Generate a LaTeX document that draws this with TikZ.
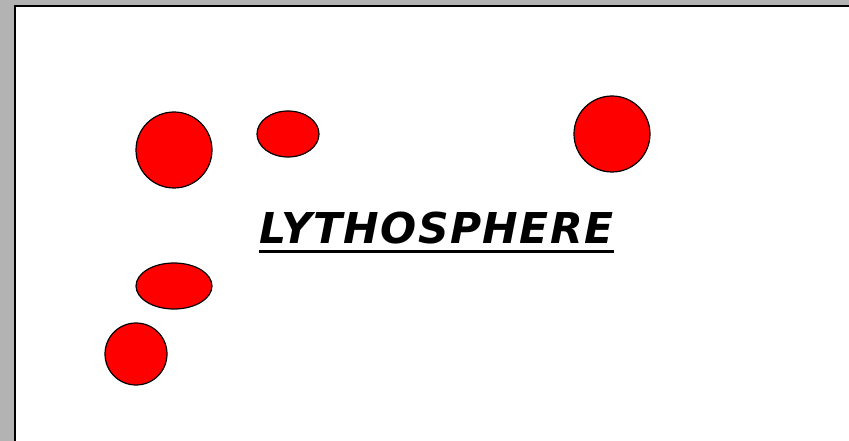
\documentclass[tikz,border=0pt]{standalone}
\usepackage{fontspec}
\setmainfont{Liberation Sans}
\newfontfamily\titlefont{DejaVu Sans}
\usepackage{xcolor}
\definecolor{frame}{RGB}{179, 179, 179}
\definecolor{blob}{RGB}{255, 0, 0}

\begin{document}
\begin{tikzpicture}[x=1pt,y=-1pt]
\tikzset{rock/.style={draw=black, line width=1.2pt, fill=blob}}
\useasboundingbox (0,0) rectangle (849,441);
% Window frame
\fill[frame] (0,0) rectangle (849,441);
\fill[white] (16,7) rectangle (849,441);
\draw[line width=2.2pt] (15,441) -- (15,6) -- (849,6);
% Blobs
\draw[rock] (174,150) circle (38);
\draw[rock] (288,134) ellipse (31 and 23);
\draw[rock] (612,134) circle (38);
\draw[rock] (174,286) ellipse (38 and 23);
\draw[rock] (136,354) circle (31);
% Title
\node[anchor=base west, inner sep=0pt, font=\titlefont\fontsize{42.5}{43}\selectfont\bfseries\itshape\addfontfeature{LetterSpace=3.4}] (title) at (259,243) {LYTHOSPHERE};
\draw[line width=3pt] ([yshift=-8.5pt]title.base west) -- ([yshift=-8.5pt]title.base east);
\end{tikzpicture}
\end{document}
